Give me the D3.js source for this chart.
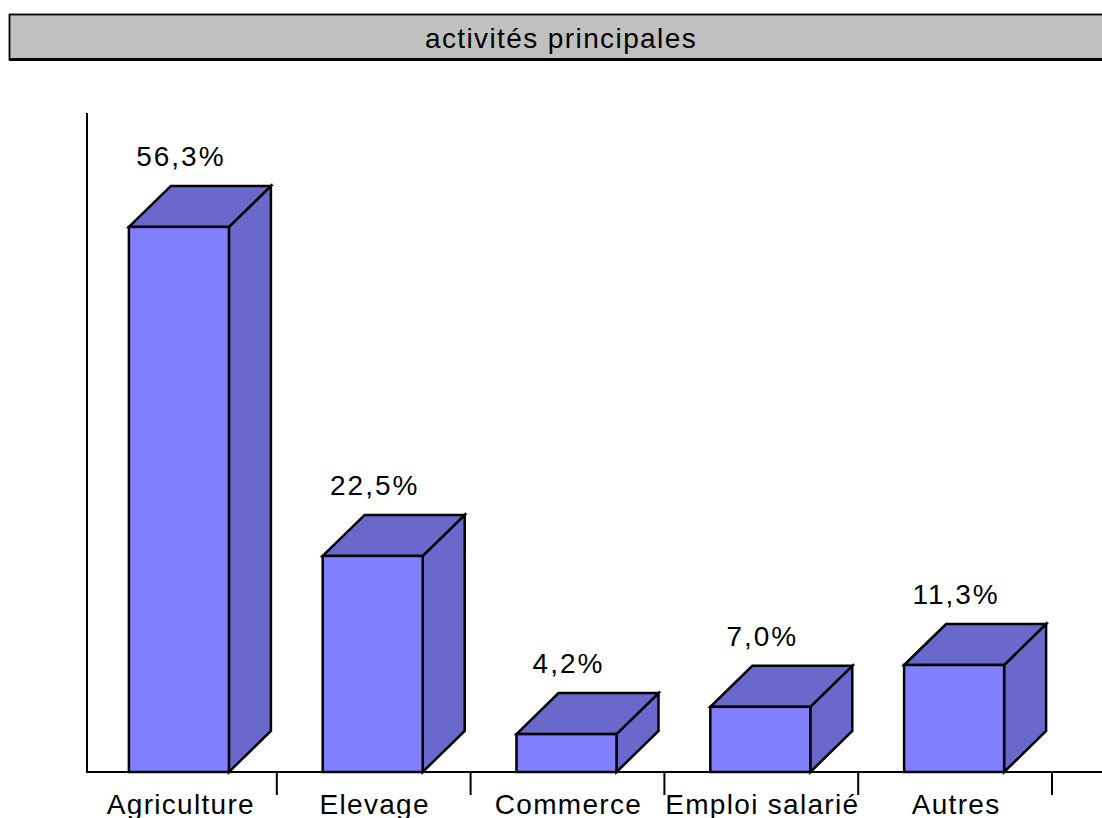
<!DOCTYPE html>
<html>
<head>
<meta charset="utf-8">
<script src="https://cdn.jsdelivr.net/npm/d3@7"></script>
<style>
  body { margin: 0; background: #fff; }
  text { font-family: "Liberation Sans", Arial, sans-serif; fill: #000; }
</style>
</head>
<body>
<div id="chart"></div>
<script>
var title = "activités principales"
var categories = ["Agriculture", "Elevage", "Commerce", "Emploi salarié", "Autres"]
var values = [56.3, 22.5, 4.2, 7.0, 11.3]

var width = 1102,
    height = 818,
    baseline = 772,
    depthX = 42,
    depthY = 41,
    frontWidth = 100

var x = d3.scaleBand()
    .domain(categories)
    .range([83, 1052])

var y = d3.scaleLinear()
    .domain([0, 68])
    .range([775, 113])

var fmt = function(v) { return v.toFixed(1).replace(".", ",") + "%" }

var svg = d3.select("#chart").append("svg")
    .attr("width", width)
    .attr("height", height)

// title banner
svg.append("rect")
    .attr("x", 9.5).attr("y", 14.5)
    .attr("width", 1200).attr("height", 45)
    .style("fill", "#C0C0C0")
    .style("stroke", "#000")
    .style("stroke-width", 1.8)
svg.append("line")
    .attr("x1", 9).attr("x2", width)
    .attr("y1", 59.5).attr("y2", 59.5)
    .style("stroke", "#000")
    .style("stroke-width", 3)
svg.append("text")
    .attr("x", 561).attr("y", 48)
    .attr("text-anchor", "middle")
    .style("font-size", "28px")
    .style("letter-spacing", "1.4px")
    .text(title)

// axes
svg.append("line")
    .attr("x1", 87).attr("x2", 87)
    .attr("y1", y.range()[1]).attr("y2", baseline)
    .style("stroke", "#000").style("stroke-width", 2)
svg.append("line")
    .attr("x1", 86).attr("x2", width)
    .attr("y1", baseline).attr("y2", baseline)
    .style("stroke", "#000").style("stroke-width", 2)

svg.selectAll(".tick-mark")
    .data(categories).enter()
  .append("line")
    .classed("tick-mark", true)
    .attr("x1", function(d) { return x(d) + x.bandwidth() })
    .attr("x2", function(d) { return x(d) + x.bandwidth() })
    .attr("y1", baseline).attr("y2", 795)
    .style("stroke", "#000").style("stroke-width", 2)

svg.selectAll(".cat-label")
    .data(categories).enter()
  .append("text")
    .classed("cat-label", true)
    .attr("x", function(d) { return x(d) + x.bandwidth() / 2 + 1 })
    .attr("y", 814)
    .attr("text-anchor", "middle")
    .style("font-size", "28px")
    .style("letter-spacing", "1.3px")
    .text(function(d) { return d })

// 3d bars
var bars = svg.selectAll(".bar")
    .data(categories.map(function(c, i) { return { cat: c, value: values[i] } }))
    .enter().append("g")
    .classed("bar", true)

function left(d) { return x(d.cat) + x.bandwidth() / 2 - frontWidth / 2 - 1 }

bars.append("path")
    .attr("d", function(d) {
      var x0 = left(d), x1 = x0 + frontWidth, t = y(d.value)
      return "M" + x1 + "," + baseline + "L" + (x1 + depthX) + "," + (baseline - depthY) +
             "L" + (x1 + depthX) + "," + (t - depthY) + "L" + x1 + "," + t + "Z"
    })
    .style("fill", "#6969CC")

bars.append("path")
    .attr("d", function(d) {
      var x0 = left(d), x1 = x0 + frontWidth, t = y(d.value)
      return "M" + x0 + "," + t + "L" + (x0 + depthX) + "," + (t - depthY) +
             "L" + (x1 + depthX) + "," + (t - depthY) + "L" + x1 + "," + t + "Z"
    })
    .style("fill", "#6969CC")

bars.append("rect")
    .attr("x", left)
    .attr("y", function(d) { return y(d.value) })
    .attr("width", frontWidth)
    .attr("height", function(d) { return baseline - y(d.value) })
    .style("fill", "#8080FF")

bars.selectAll("path, rect")
    .style("stroke", "#000")
    .style("stroke-width", 2.5)
    .style("stroke-linejoin", "miter")

bars.append("text")
    .attr("x", function(d) { return x(d.cat) + x.bandwidth() / 2 + 1 })
    .attr("y", function(d) { return y(d.value) - 61 })
    .attr("text-anchor", "middle")
    .style("font-size", "28px")
    .style("letter-spacing", "2px")
    .text(function(d) { return fmt(d.value) })
</script>
</body>
</html>
